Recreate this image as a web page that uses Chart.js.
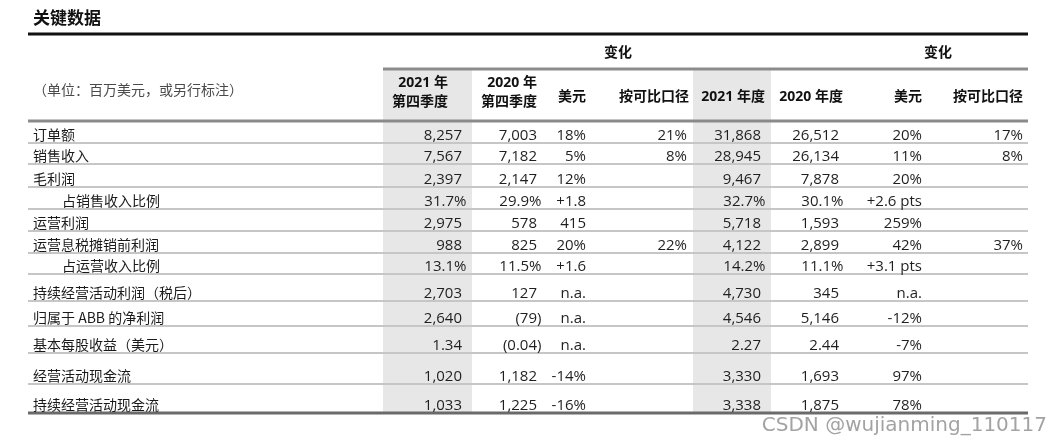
<!DOCTYPE html>
<html>
<head>
<meta charset="utf-8">
<title>关键数据</title>
<script src="https://cdn.jsdelivr.net/npm/chart.js@4.4.1/dist/chart.umd.min.js"></script>
<style>
  html, body { margin: 0; padding: 0; background: #fff; }
  #table { display: block; }
</style>
</head>
<body>
<canvas id="table" width="1064" height="446"></canvas>
<script>
const title = '关键数据';
const unitNote = '（单位：百万美元，或另行标注）';
const watermark = 'CSDN @wujianming_110117';

const rowLabels = ['订单额', '销售收入', '毛利润', '占销售收入比例', '运营利润', '运营息税摊销前利润',
    '占运营收入比例', '持续经营活动利润（税后）', '归属于 ABB 的净利润', '基本每股收益（美元）',
    '经营活动现金流', '持续经营活动现金流'];
const rowKind = ['int', 'int', 'int', 'pct', 'int', 'int', 'pct', 'int', 'int', 'dec', 'int', 'int'];
const rowIndent = [0, 0, 0, 1, 0, 0, 1, 0, 0, 0, 0, 0];

const q4_2021 = [8257, 7567, 2397, 31.7, 2975, 988, 13.1, 2703, 2640, 1.34, 1020, 1033];
const q4_2020 = [7003, 7182, 2147, 29.9, 578, 825, 11.5, 127, -79, -0.04, 1182, 1225];
const chgUsdQ = ['18%', '5%', '12%', '+1.8', '415', '20%', '+1.6', 'n.a.', 'n.a.', 'n.a.', '-14%', '-16%'];
const chgCompQ = ['21%', '8%', '', '', '', '22%', '', '', '', '', '', ''];
const fy2021 = [31868, 28945, 9467, 32.7, 5718, 4122, 14.2, 4730, 4546, 2.27, 3330, 3338];
const fy2020 = [26512, 26134, 7878, 30.1, 1593, 2899, 11.1, 345, 5146, 2.44, 1693, 1875];
const chgUsdY = ['20%', '11%', '20%', '+2.6 pts', '259%', '42%', '+3.1 pts', 'n.a.', '-12%', '-7%', '97%', '78%'];
const chgCompY = ['17%', '8%', '', '', '', '37%', '', '', '', '', '', ''];

const columnTitles = [['2021 年', '第四季度'], ['2020 年', '第四季度'], ['美元'], ['按可比口径'],
    ['2021 年度'], ['2020 年度'], ['美元'], ['按可比口径']];
const groupTitles = ['变化', '变化'];

// layout, in table units (x from the left rule, y from the top rule)
const headHeights = [36, 52];
const rowHeights = [22, 21, 23, 22, 22, 22, 21, 27, 25, 27, 31, 29];
const colRight = [434, 509, 558, 659, 733, 811, 894, 995];
const headRight = [420, 509, 558, 661, 737, 815, 894, 995];
const hangCols = [true, true, false, false, true, true, false, false];
const shadedCols = [[355, 444], [665, 743]];
const groupCenter = [590, 910];
const groupLine = [355, 1000];

const numFont = '15px "Open Sans", "Noto Sans CJK SC", sans-serif';
const cjkFont = '14px "Noto Sans CJK SC", "Noto Sans", sans-serif';
const headFont = 'bold 14px "Open Sans", "Noto Sans CJK SC", sans-serif';

function fmt(v, kind) {
    if (v === null || v === undefined || v === '') return '';
    if (typeof v === 'string') return v;
    const a = Math.abs(v);
    let s;
    if (kind === 'pct') s = a.toFixed(1) + '%';
    else if (kind === 'dec') s = a.toFixed(2);
    else s = a.toLocaleString('en-US');
    return v < 0 ? '(' + s + ')' : s;
}

const tablePlugin = {
    id: 'tablePlugin',
    afterDraw(chart) {
        const ctx = chart.ctx;
        const x = chart.scales.x;
        const y = chart.scales.y;
        const px = v => x.getPixelForValue(v);
        const py = v => y.getPixelForValue(v);
        const headTotal = headHeights[0] + headHeights[1];
        const tableBottom = headTotal + rowHeights.reduce((a, b) => a + b, 0);

        ctx.save();

        // shaded columns
        ctx.fillStyle = '#e7e7e7';
        shadedCols.forEach(([a, b]) => {
            ctx.fillRect(px(a), py(headHeights[0]), px(b) - px(a), py(tableBottom) - py(headHeights[0]));
        });

        const hline = (x0, x1, yv, w, color) => {
            ctx.beginPath();
            ctx.lineWidth = w;
            ctx.strokeStyle = color;
            ctx.moveTo(px(x0), py(yv));
            ctx.lineTo(px(x1), py(yv));
            ctx.stroke();
        };

        // row separators
        let acc = headTotal;
        const rowBottom = [];
        rowHeights.forEach(h => { acc += h; rowBottom.push(acc); });
        rowBottom.slice(0, -1).forEach(b => hline(0, 1000, b, 2, '#c6c6c6'));

        hline(0, 1000, 1, 3, '#111');
        hline(groupLine[0], groupLine[1], headHeights[0], 3, '#8c8c8c');
        hline(0, 1000, headTotal, 3, '#8a8a8a');
        hline(0, 1000, tableBottom, 3, '#6a6a6a');

        const text = (s, xv, yv, align, font, color, baseline) => {
            ctx.font = font;
            ctx.fillStyle = color;
            ctx.textAlign = align;
            ctx.textBaseline = baseline || 'alphabetic';
            ctx.fillText(s, px(xv), py(yv));
        };

        text(title, 5, -15, 'left', 'bold 17px "Noto Sans CJK SC", sans-serif', '#111', 'middle');
        text(unitNote, 5, 57, 'left', '14px "Noto Sans CJK SC", sans-serif', '#4a4a4a', 'middle');

        groupTitles.forEach((g, i) => text(g, groupCenter[i], 20, 'center', headFont, '#111', 'middle'));
        columnTitles.forEach((lines, c) => {
            if (lines.length === 2) {
                text(lines[0], headRight[c], 50, 'right', headFont, '#111', 'middle');
                text(lines[1], headRight[c], 69, 'right', headFont, '#111', 'middle');
            } else {
                text(lines[0], headRight[c], 64, 'right', headFont, '#111', 'middle');
            }
        });

        // body
        const columns = [q4_2021, q4_2020, chgUsdQ, chgCompQ, fy2021, fy2020, chgUsdY, chgCompY];
        ctx.font = numFont;
        const hang = ctx.measureText(')').width;
        rowLabels.forEach((label, r) => {
            const base = rowBottom[r] - 3.5;
            text(label, rowIndent[r] ? 34 : 5, base, 'left', cjkFont, '#1a1a1a');
            columns.forEach((col, c) => {
                const s = fmt(col[r], rowKind[r]);
                if (!s) return;
                let xv = colRight[c];
                if (hangCols[c] && /[%)]$/.test(s)) xv += hang;
                text(s, xv, base, 'right', numFont, '#1f1f1f');
            });
        });

        text(watermark, 1019, 398, 'right', '20px "DejaVu Sans", sans-serif', '#a3a3a3');
        ctx.restore();
    }
};

new Chart(document.getElementById('table'), {
    type: 'scatter',
    data: { datasets: [] },
    options: {
        responsive: false,
        animation: false,
        devicePixelRatio: 1,
        layout: { padding: { left: 28, right: 36, top: 33, bottom: 33 } },
        plugins: {
            legend: { display: false },
            tooltip: { enabled: false },
        },
        scales: {
            x: { type: 'linear', min: 0, max: 1000, display: false },
            y: { type: 'linear', min: 0, max: 380, reverse: true, display: false },
        },
    },
    plugins: [tablePlugin],
});
</script>
</body>
</html>
